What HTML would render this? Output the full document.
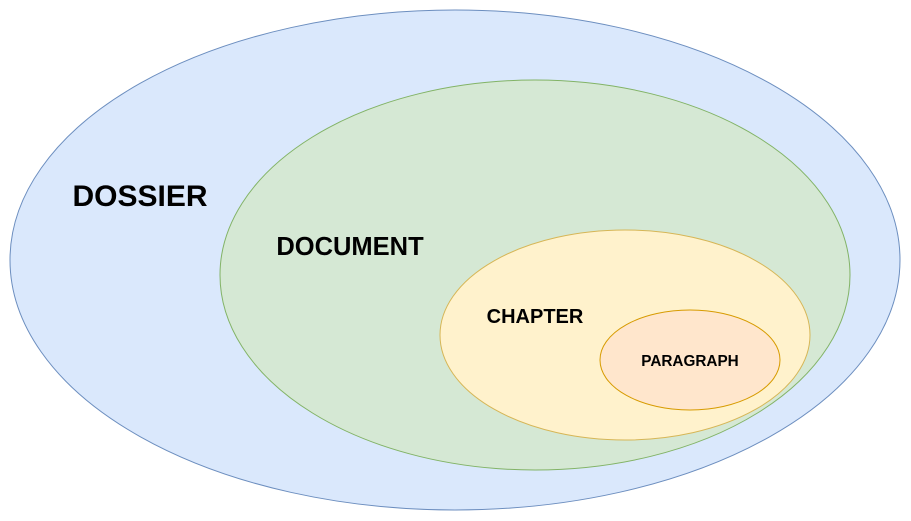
<!DOCTYPE html>
<html><head><style>html,body{margin:0;padding:0;background:#fff;}svg{display:block}</style></head>
<body>
<svg width="911" height="521" viewBox="0 0 911 521" xmlns="http://www.w3.org/2000/svg" font-family="Liberation Sans, Arial, sans-serif" font-weight="bold">
<ellipse cx="455" cy="260" rx="445" ry="250" fill="#dae8fc" stroke="#6c8ebf" stroke-width="1"/>
<ellipse cx="535" cy="275" rx="315" ry="195" fill="#d5e8d4" stroke="#82b366" stroke-width="1"/>
<ellipse cx="625" cy="335" rx="185" ry="105" fill="#fff2cc" stroke="#d6b656" stroke-width="1"/>
<ellipse cx="690" cy="360" rx="90" ry="50" fill="#ffe6cc" stroke="#d79b00" stroke-width="1"/>
<text x="140" y="206" font-size="30" text-anchor="middle" fill="#000">DOSSIER</text>
<text x="350" y="255" font-size="25.5" text-anchor="middle" fill="#000">DOCUMENT</text>
<text x="535" y="323" font-size="20" text-anchor="middle" fill="#000">CHAPTER</text>
<text x="690" y="366" font-size="15.3" text-anchor="middle" fill="#000">PARAGRAPH</text>
</svg>
</body></html>
